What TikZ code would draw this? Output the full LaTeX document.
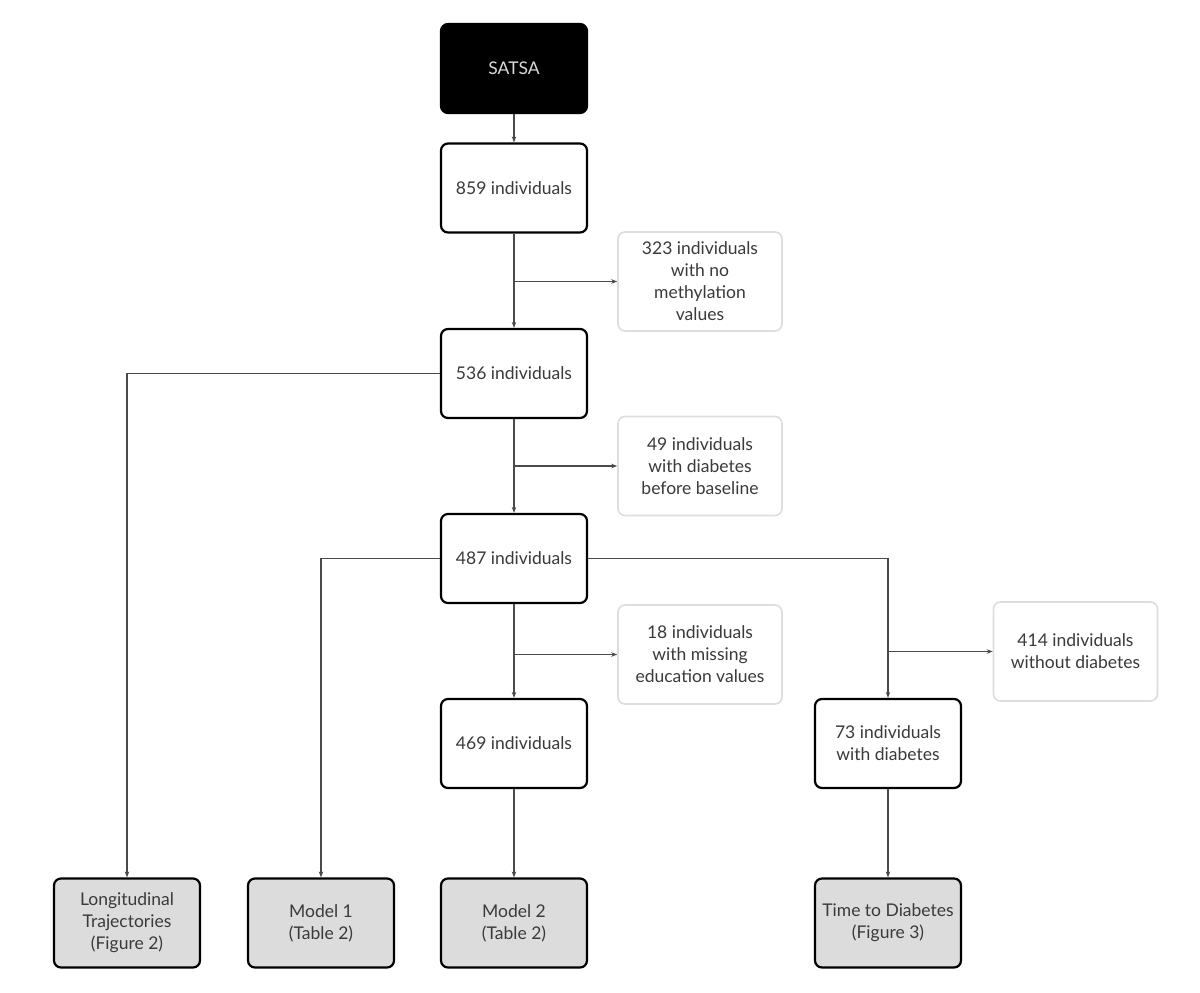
\documentclass[tikz,border=0pt]{standalone}
\usepackage{xcolor}
\usepackage{fontspec}
\setmainfont{Lato}
\usepackage{tikz}
\usetikzlibrary{arrows.meta}

\definecolor{txtgray}{HTML}{3A3A3A}
\definecolor{linegray}{HTML}{4A4A4A}
\definecolor{softgray}{HTML}{DDDDDD}
\definecolor{fillgray}{HTML}{DCDCDC}

\begin{document}
\begin{tikzpicture}[
   x=1pt,y=-1pt,
   font=\fontsize{17.5}{22}\selectfont,
   state/.style={draw=black,line width=2.2pt,rounded corners=7pt,minimum width=146pt,minimum height=89pt,align=center,text=txtgray,fill=white},
   start/.style={state,fill=black,text=white!85!black},
   excl/.style={draw=softgray,line width=1.6pt,rounded corners=7pt,minimum width=164pt,minimum height=99pt,align=center,text=txtgray,fill=white},
   result/.style={state,fill=fillgray},
   to/.style={-{Stealth[length=6pt,width=4.5pt]},line width=1.2pt,draw=linegray}]
\useasboundingbox (0,0) rectangle (1200,993);
% main column
\node[start] (SATSA) at (514,68.5) {SATSA};
\node[state] (N859) at (514,188) {859 individuals};
\node[state] (N536) at (514,373.5) {536 individuals};
\node[state] (N487) at (514,558.5) {487 individuals};
\node[state] (N469) at (514,743.5) {469 individuals};
\node[state] (D73) at (888,743.5) {73 individuals\\with diabetes};
% excluded
\node[excl] (X323) at (700,281.5) {323 individuals\\with no\\methylation\\values};
\node[excl] (X49) at (700,466) {49 individuals\\with diabetes\\before baseline};
\node[excl] (X18) at (700,654.5) {18 individuals\\with missing\\education values};
\node[excl] (X414) at (1075.5,651.5) {414 individuals\\without diabetes};
% analyses
\node[result] (Long) at (127,923) {Longitudinal\\Trajectories\\(Figure 2)};
\node[result] (M1) at (321,923) {Model 1\\(Table 2)};
\node[result] (M2) at (514,923) {Model 2\\(Table 2)};
\node[result] (Time) at (888,923) {Time to Diabetes\\(Figure 3)};
% connectors
\draw[to] (SATSA) -- (N859);
\draw[to] (N859) -- (N536);
\draw[to] (N859.south |- X323.west) -- (X323.west);
\draw[to] (N536) -- (N487);
\draw[to] (N536.south |- X49.west) -- (X49.west);
\draw[to] (N487) -- (N469);
\draw[to] (N487.south |- X18.west) -- (X18.west);
\draw[to] (N536.west) -| (Long.north);
\draw[to] (N487.west) -| (M1.north);
\draw[to] (N487.east) -| (D73.north);
\draw[to] (D73.north |- X414.west) -- (X414.west);
\draw[to] (N469) -- (M2);
\draw[to] (D73) -- (Time);
\end{tikzpicture}
\end{document}
